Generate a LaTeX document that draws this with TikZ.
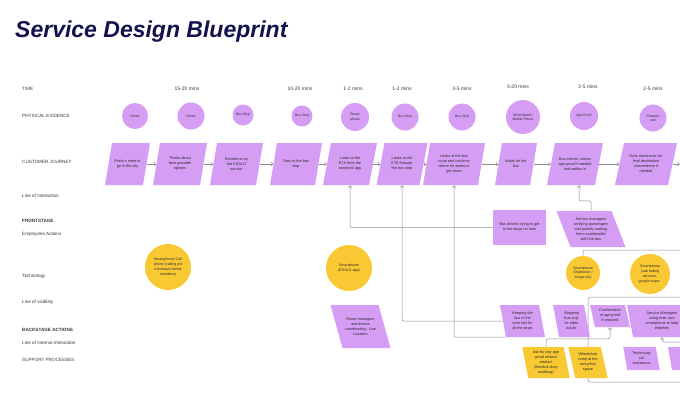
\documentclass[tikz,border=0pt]{standalone}
\usepackage{fontspec}
\setmainfont{Liberation Sans}
\usetikzlibrary{arrows.meta,calc}
\pgfdeclarelayer{bg}
\pgfdeclarelayer{wires}
\pgfsetlayers{bg,wires,main}
\definecolor{lilac}{HTML}{D69DF5}
\definecolor{sun}{HTML}{F9C933}
\definecolor{ink}{HTML}{14114D}
\definecolor{wire}{HTML}{8C8C8C}
\definecolor{txt}{HTML}{2A2A2A}
\definecolor{labelgray}{HTML}{3A3A3A}
% name, cx, cy, width, height, slant (top shift), fill, text
\newcommand\pgram[8]{%
  \fill[#7] ({#2-(#4)/2+(#6)/2},{#3-(#5)/2}) -- ({#2+(#4)/2+(#6)/2},{#3-(#5)/2})
    -- ({#2+(#4)/2-(#6)/2},{#3+(#5)/2}) -- ({#2-(#4)/2-(#6)/2},{#3+(#5)/2}) -- cycle;
  \node[boxtext, minimum width=#4pt, minimum height=#5pt] (#1) at (#2,#3) {#8};
}
\begin{document}
\begin{tikzpicture}[x=1pt,y=-1pt,
  lbl/.style={anchor=west, inner sep=0, font=\fontsize{4.6}{5.5}\selectfont, text=labelgray},
  timelbl/.style={inner sep=0, font=\fontsize{5}{6}\selectfont, text=labelgray},
  boxtext/.style={inner sep=0, align=center, font=\fontsize{3.8}{5}\selectfont, text=txt},
  evid/.style={circle, fill=lilac, inner sep=0, align=center, font=\fontsize{3.4}{4.4}\selectfont, text=txt},
  techc/.style={circle, fill=sun, inner sep=0, align=center, font=\fontsize{3.6}{4.8}\selectfont, text=txt},
  conn/.style={draw=wire, line width=0.5pt, rounded corners=2pt},
  flow/.style={conn, -{Straight Barb[length=2pt,width=3.5pt]}}
]
\begin{pgfonlayer}{bg}\fill[white] (0,0) rectangle (680,408);\end{pgfonlayer}
\path[use as bounding box] (0,0) rectangle (680,408);
\clip (0,0) rectangle (680,408);

% title
\node[anchor=base west, inner sep=0, font=\fontsize{23}{26}\selectfont\bfseries\itshape, text=ink] (title) at (15,37) {Service Design Blueprint};

% left labels
\node[lbl] (lTime) at (22,89) {TIME};
\node[lbl] (lPhys) at (22,116) {PHYSICAL EVIDENCE};
\node[lbl] (lCust) at (22,162) {CUSTOMER JOURNEY};
\node[lbl] (lInter) at (22,196) {Line of Interaction};
\node[lbl, font=\fontsize{4.6}{5.5}\selectfont\bfseries] (lFront) at (22,221) {FRONTSTAGE};
\node[lbl] (lEmp) at (22,234) {Employees Actions};
\node[lbl] (lTech) at (22,276) {Technology};
\node[lbl] (lVis) at (22,302) {Line of visibility};
\node[lbl, font=\fontsize{4.6}{5.5}\selectfont\bfseries] (lBack) at (22,330) {BACKSTAGE ACTIONS};
\node[lbl] (lInt) at (22,343) {Line of Internal Interaction};
\node[lbl] (lSup) at (22,360) {SUPPORT PROCESSES};

% times
\node[timelbl] (t2) at (187,89) {15-20 mins};
\node[timelbl] (t4) at (300,89) {10-20 mins};
\node[timelbl] (t5) at (353,89) {1-2 mins};
\node[timelbl] (t6) at (402,89) {1-2 mins};
\node[timelbl] (t7) at (462,89) {3-5 mins};
\node[timelbl] (t8) at (518,87) {5-20 mins};
\node[timelbl] (t9) at (588,87) {2-5 mins};
\node[timelbl] (t10) at (653,89) {2-5 mins};

% physical evidence
\node[evid, minimum size=26pt] (p1) at (135,116) {Home};
\node[evid, minimum size=27pt] (p2) at (191,116) {Home};
\node[evid, minimum size=21pt] (p3) at (243,115) {Bus Stop};
\node[evid, minimum size=21pt] (p4) at (302,116) {Bus Stop};
\node[evid, minimum size=28pt] (p5) at (355,117) {Smart\\phone};
\node[evid, minimum size=27pt] (p6) at (405,117) {Bus Stop};
\node[evid, minimum size=27pt] (p7) at (462,117) {Bus Stop};
\node[evid, minimum size=34pt] (p8) at (523,117) {Wrist Watch/\\Mobile Phone};
\node[evid, minimum size=28pt] (p9) at (584,116) {Age Proof};
\node[evid, minimum size=27pt] (p10) at (653,118) {Smartph\\one};

% customer journey
\pgram{j1}{127.5}{164}{38}{42}{7}{lilac}{Feels a need to\\go in the city}
\pgram{j2}{180}{164}{47}{42}{7}{lilac}{Thinks about\\best possible\\options}
\pgram{j3}{236.5}{164}{46}{42}{7}{lilac}{Decides to try\\the ESSLO\\service}
\pgram{j4}{296}{164}{45}{42}{7}{lilac}{Gets to the bus\\stop}
\pgram{j5}{350}{164}{46}{42}{8}{lilac}{Looks at the\\ETA from the\\assistant app}
\pgram{j6}{402}{164}{43}{42}{8}{lilac}{Looks at the\\ETA through\\the bus stop}
\pgram{j7}{454}{164}{55}{42}{7}{lilac}{Looks at the bus\\route and confirms\\where he wants to\\get down}
\pgram{j8}{516}{164}{35}{42}{7}{lilac}{Waits for the\\bus}
\pgram{j9}{575}{164}{48}{42}{8}{lilac}{Bus arrives, shows\\age proof if needed\\and settles in}
\pgram{j10}{646}{164}{53}{42}{9}{lilac}{Gets assistance for\\final destination\\convenience if\\needed}

% employees actions
\node[boxtext, fill=lilac, minimum width=53pt, minimum height=35pt] (busdrv) at (519.5,227.5) {Bus drivers trying to get\\to the stops on time};
\pgram{svcmgr}{591}{229}{55}{36}{-14}{lilac}{Service managers\\verifying passengers\\and politely making\\them comfortable\\with the bus}

% technology
\node[techc, minimum size=46pt] (tc1) at (168,267) {Smartphone/ Call\\phone (calling pvt\\rickshaws/ family\\members)};
\node[techc, minimum size=46pt] (tc2) at (349,268) {Smartphone\\(ESSLO app)};
\node[techc, minimum size=34pt] (digi) at (583,273) {Smartphone\\(Digilocker /\\Image etc)};
\node[techc, minimum size=40pt] (cab) at (650,274) {Smartphone\\(cab hailing\\services,\\google maps..};

% backstage
\pgram{route}{360.5}{326.5}{48}{43}{-12}{lilac}{Route managers\\and drivers\\coordinating - Live\\Location}
\pgram{keep}{522.5}{321}{39}{32}{-6}{lilac}{Keeping the\\bus in the\\time slot for\\all the stops}
\pgram{stop}{571.5}{321}{31}{32}{-6}{lilac}{Stopping\\bus only\\for older\\adults}
\pgram{conf}{610}{316}{35}{22}{-5}{lilac}{Confirmation\\of age proof\\if required}
\pgram{svcown}{662}{321}{64}{32}{-6}{lilac}{Service Managers\\using their own\\smartphone to help\\elderlies}

% support
\pgram{ask}{546}{362.5}{41.5}{31}{-6}{sun}{Ask for any age\\proof related\\artefact\\(Medical diary\\anything)}
\pgram{wheel}{588}{362.5}{32.5}{31}{-7}{sun}{Wheelchair\\ramp at the\\entry/exit\\space}
\pgram{tech}{641.5}{358.5}{32.5}{23}{-4}{lilac}{Technologi\\cal\\assistance}
\pgram{util}{700}{358.5}{60}{23}{-4}{lilac}{}

% edge coordinates
\coordinate (eJ) at (680,164);
\coordinate (eA) at (680,250);
\coordinate (eB) at (680,297);
\coordinate (bT) at (588,297);
\coordinate (bB) at (588,382);
\coordinate (eC) at (680,382);
\coordinate (eD) at (680,342);

\begin{pgfonlayer}{wires}
\draw[flow] (j1.east) -- (j2.west);
\draw[flow] (j2.east) -- (j3.west);
\draw[flow] (j3.east) -- (j4.west);
\draw[flow] (j4.east) -- (j5.west);
\draw[flow] (j5.east) -- (j6.west);
\draw[flow] (j6.east) -- (j7.west);
\draw[flow] (j7.east) -- (j8.west);
\draw[flow] (j8.east) -- (j9.west);
\draw[flow] (j9.east) -- (j10.west);
\draw[flow] (j10.east) -- (eJ);
\draw[flow] (busdrv.west) -| (j5.south);
\draw[flow] (keep.west) -| (j6.south);
\draw[flow] ([xshift=3pt]keep.south west) -| (j7.south);
\draw[flow] (svcmgr.north) -- ++(0,-10) -| ([xshift=4pt]j9.south);
\draw[conn] (digi.north) |- (eA);
\draw[conn] (eB) -- (bT) -- (bB) -- (eC);
\draw[flow] (ask.north) -- ++(0,-8) -| (conf.south);
\draw[flow] (eD) -| (svcown.south);
\end{pgfonlayer}
\end{tikzpicture}
\end{document}
